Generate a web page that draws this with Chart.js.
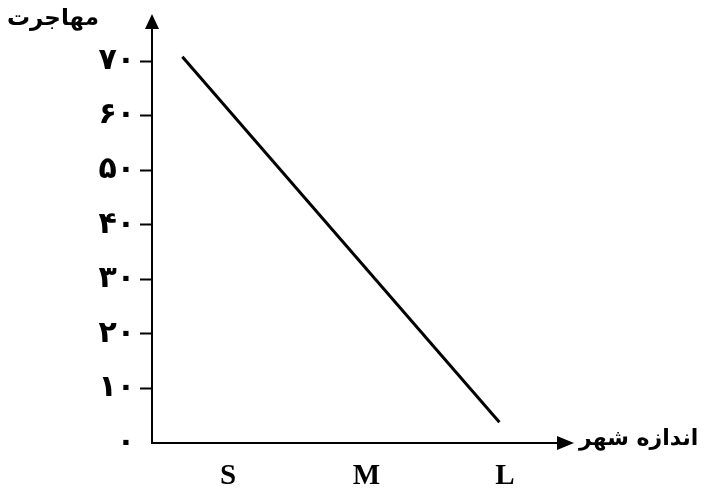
<!DOCTYPE html>
<html>
<head>
<meta charset="utf-8">
<script src="https://cdn.jsdelivr.net/npm/chart.js@4.4.1/dist/chart.umd.min.js"></script>
<style>
  html, body { margin: 0; padding: 0; background: #fff; }
  #wrap { width: 707px; height: 490px; }
</style>
</head>
<body>
<div id="wrap"><canvas id="migrationChart"></canvas></div>
<script>
const xTickValues = [1, 2, 3]
const xTickLabels = ['S', 'M', 'L']
const yTickValues = [0, 10, 20, 30, 40, 50, 60, 70]
const yTickLabels = ['۰', '۱۰', '۲۰', '۳۰', '۴۰', '۵۰', '۶۰', '۷۰']
const citySize = [0.67, 2.96]
const migration = [70.8, 3.8]
const yTitle = 'مهاجرت'
const xTitle = 'اندازه شهر'

// axis lines with arrow heads, plus the two titles
const arrowAxes = {
  id: 'arrowAxes',
  afterDraw (chart) {
    const { ctx, chartArea: a } = chart
    ctx.save()
    ctx.strokeStyle = '#000'
    ctx.fillStyle = '#000'
    ctx.lineWidth = 2
    ctx.beginPath()
    ctx.moveTo(a.left, a.top)
    ctx.lineTo(a.left, a.bottom)
    ctx.lineTo(a.right, a.bottom)
    ctx.stroke()

    ctx.beginPath()
    ctx.moveTo(a.left, a.top - 14)
    ctx.lineTo(a.left - 7, a.top + 1)
    ctx.lineTo(a.left + 7, a.top + 1)
    ctx.closePath()
    ctx.fill()

    ctx.beginPath()
    ctx.moveTo(a.right + 16, a.bottom)
    ctx.lineTo(a.right - 1, a.bottom - 7)
    ctx.lineTo(a.right - 1, a.bottom + 7)
    ctx.closePath()
    ctx.fill()

    ctx.font = 'bold 23px "DejaVu Sans"'
    ctx.textBaseline = 'middle'
    ctx.textAlign = 'right'
    ctx.fillText(yTitle, 99, 19)
    ctx.font = 'bold 22px "DejaVu Sans"'
    ctx.textAlign = 'left'
    ctx.fillText(xTitle, 579, a.bottom - 4)
    ctx.restore()
  }
}

// eslint-disable-next-line no-unused-vars
const migrationChart = new Chart(document.getElementById('migrationChart'), {
  type: 'line',
  data: {
    datasets: [
      {
        data: citySize.map((x, i) => ({ x, y: migration[i] })),
        borderColor: '#000',
        borderWidth: 3,
        pointRadius: 0,
        tension: 0,
        fill: false
      }
    ]
  },
  options: {
    responsive: true,
    maintainAspectRatio: false,
    animation: false,
    layout: { padding: { left: 0, right: 149, top: 28, bottom: 0 } },
    plugins: {
      legend: { display: false },
      tooltip: { enabled: false }
    },
    scales: {
      x: {
        type: 'linear',
        min: 0.451,
        max: 3.383,
        afterBuildTicks: scale => { scale.ticks = xTickValues.map(value => ({ value })) },
        afterFit: scale => { scale.height = 47 },
        border: { display: false },
        grid: { display: false },
        ticks: {
          padding: 8,
          color: '#000',
          font: { family: '"Liberation Serif"', size: 29, weight: 'bold' },
          callback: value => xTickLabels[xTickValues.indexOf(value)]
        }
      },
      y: {
        min: 0,
        max: 76.05,
        afterBuildTicks: scale => { scale.ticks = yTickValues.map(value => ({ value })) },
        afterFit: scale => { scale.width = 152 },
        border: { display: false },
        grid: {
          drawOnChartArea: false,
          drawTicks: true,
          tickLength: 12,
          tickWidth: 2,
          tickColor: ctx => (ctx.tick && ctx.tick.value === 0 ? 'rgba(0,0,0,0)' : '#000')
        },
        ticks: {
          padding: 5,
          color: '#000',
          font: { family: '"DejaVu Sans"', size: 30, weight: 'bold' },
          callback: value => yTickLabels[yTickValues.indexOf(value)]
        }
      }
    }
  },
  plugins: [arrowAxes]
})
</script>
</body>
</html>
